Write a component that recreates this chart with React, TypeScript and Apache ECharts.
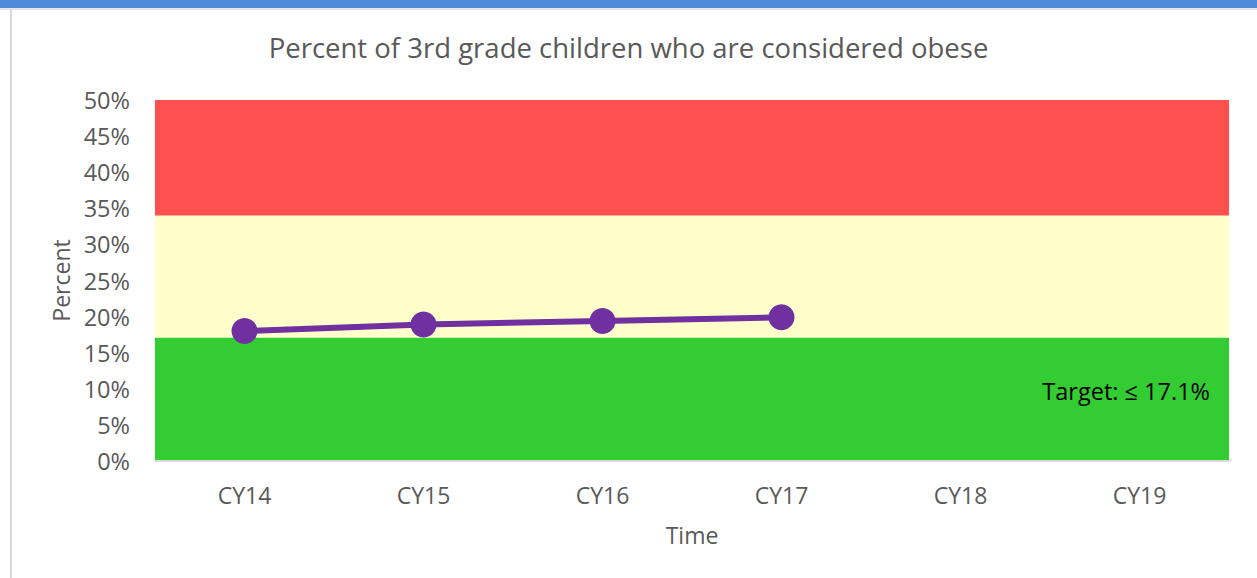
import React, { useEffect, useRef } from "react";
import * as echarts from "echarts";

const categories = ["CY14", "CY15", "CY16", "CY17", "CY18", "CY19"];
const obeseValues: (number | null)[] = [18.0, 18.9, 19.4, 19.9, null, null];
const yTicks = { min: 0, max: 50, interval: 5 };
const greenBand = [0, 17.1];
const yellowBand = [17.1, 34];
const redBand = [34, 50];
const titleText = "Percent of 3rd grade children who are considered obese";
const targetText = "Target: \u2264 17.1%";

const FONT = "'Open Sans', sans-serif";
const GREY = "#595959";

export default function App() {
  const ref = useRef<HTMLDivElement>(null);
  useEffect(() => {
    if (!ref.current) return;
    const chart = echarts.init(ref.current, null, { renderer: "svg" });
    chart.setOption({
      animation: false,
      backgroundColor: "#ffffff",
      textStyle: { fontFamily: FONT },
      title: {
        text: titleText,
        left: "center",
        top: 28,
        textStyle: { fontFamily: FONT, fontSize: 27.5, fontWeight: "normal", color: GREY },
      },
      graphic: [
        { type: "rect", left: 0, top: 0, shape: { width: 1257, height: 8 }, style: { fill: "#4F8BDA" }, z: 10 },
        { type: "rect", left: 0, top: 8, shape: { width: 1257, height: 2 }, style: { fill: "#E6E6E6" }, z: 10 },
        { type: "rect", left: 10, top: 9, shape: { width: 2, height: 569 }, style: { fill: "#D9D9D9" }, z: 10 },
      ],
      grid: { left: 155, right: 28, top: 100, bottom: 117 },
      xAxis: {
        type: "category",
        data: categories,
        boundaryGap: true,
        name: "Time",
        nameLocation: "middle",
        nameGap: 62,
        nameTextStyle: { fontFamily: FONT, fontSize: 23, color: GREY },
        axisLine: { show: true, lineStyle: { color: "#D9D9D9", width: 2 } },
        axisTick: { show: false },
        axisLabel: { fontFamily: FONT, fontSize: 23, color: GREY, margin: 22 },
        splitLine: { show: false },
        z: 5,
      },
      yAxis: {
        type: "value",
        min: yTicks.min,
        max: yTicks.max,
        interval: yTicks.interval,
        name: "Percent",
        nameLocation: "middle",
        nameGap: 82,
        nameTextStyle: { fontFamily: FONT, fontSize: 23, color: GREY },
        axisLine: { show: false },
        axisTick: { show: false },
        splitLine: { show: false },
        axisLabel: { fontFamily: FONT, fontSize: 23.5, color: GREY, margin: 25, formatter: "{value}%" },
      },
      series: [
        {
          type: "line",
          data: obeseValues,
          symbol: "circle",
          symbolSize: 26,
          lineStyle: { color: "#7030A0", width: 6 },
          itemStyle: { color: "#7030A0" },
          z: 10,
          markArea: {
            silent: true,
            data: [
              [
                {
                  yAxis: greenBand[0],
                  itemStyle: { color: "#33CC33" },
                  label: {
                    show: true,
                    position: "insideRight",
                    distance: 19,
                    offset: [0, -8],
                    formatter: targetText,
                    color: "#000000",
                    fontFamily: FONT,
                    fontSize: 23.5,
                  },
                },
                { yAxis: greenBand[1] },
              ],
              [{ yAxis: yellowBand[0], itemStyle: { color: "#FFFFCC" }, label: { show: false } }, { yAxis: yellowBand[1] }],
              [{ yAxis: redBand[0], itemStyle: { color: "#FF5050" }, label: { show: false } }, { yAxis: redBand[1] }],
            ],
          },
        },
      ],
    });
    return () => chart.dispose();
  }, []);
  return <div ref={ref} style={{ position: "fixed", left: 0, top: 0, width: 1257, height: 578 }} />;
}
